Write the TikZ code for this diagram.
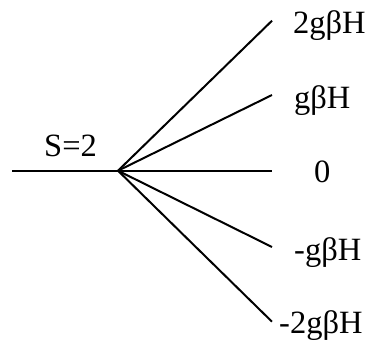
\documentclass[tikz,border=0pt]{standalone}
\usepackage{fontspec}
\setmainfont{Liberation Serif}
\usetikzlibrary{positioning}

\begin{document}
\begin{tikzpicture}[
  x=1pt, y=-1pt,
  level/.style={line width=2pt},
  lab/.style={anchor=base west, inner sep=0pt, font=\fontsize{32.5}{38}\selectfont}
]
\useasboundingbox (0,0) rectangle (374,343);
\coordinate (start) at (12,170.7);
\coordinate (split) at (118,170.7);
\coordinate (up2) at (272,20.7);
\coordinate (up1) at (272,95);
\coordinate (zero) at (272,170.7);
\coordinate (dn1) at (272,247);
\coordinate (dn2) at (272,321.7);
\node[lab] (spin) at (44,156) {S=2};
\node[lab] (lup2) at (293,33.3) {2gβH};
\node[lab] (lup1) at (294,108) {gβH};
\node[lab] (lzero) at (314,182.7) {0};
\node[lab] (ldn1) at (294,260) {-gβH};
\node[lab] (ldn2) at (279,333) {-2gβH};
\draw[level] (start) -- (split);
\draw[level] (split) -- (up2);
\draw[level] (split) -- (up1);
\draw[level] (split) -- (zero);
\draw[level] (split) -- (dn1);
\draw[level] (split) -- (dn2);
\end{tikzpicture}
\end{document}
